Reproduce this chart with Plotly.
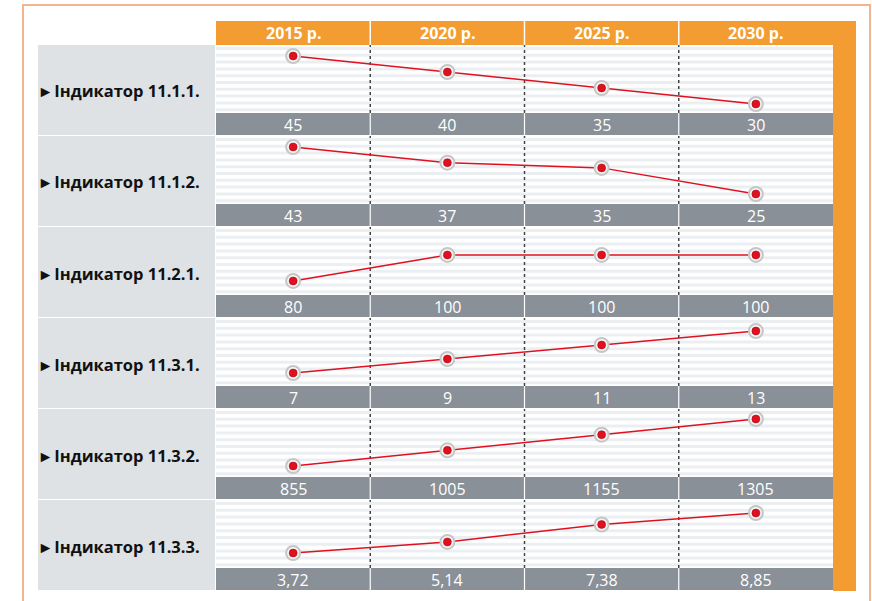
import plotly.graph_objects as go

# ---- data ----
years = ["2015 р.", "2020 р.", "2025 р.", "2030 р."]
indicators = ["Індикатор 11.1.1.", "Індикатор 11.1.2.", "Індикатор 11.2.1.",
              "Індикатор 11.3.1.", "Індикатор 11.3.2.", "Індикатор 11.3.3."]
ind_11_1_1 = [45, 40, 35, 30]
ind_11_1_2 = [43, 37, 35, 25]
ind_11_2_1 = [80, 100, 100, 100]
ind_11_3_1 = [7, 9, 11, 13]
ind_11_3_2 = [855, 1005, 1155, 1305]
ind_11_3_3 = [3.72, 5.14, 7.38, 8.85]
series = [ind_11_1_1, ind_11_1_2, ind_11_2_1, ind_11_3_1, ind_11_3_2, ind_11_3_3]
decimals = [0, 0, 0, 0, 0, 2]

# ---- styling / layout (pixels of the final page) ----
W, H = 872, 601
OFF = 0
y_ranges = [[27.19, 48.44], [21.17, 47.21], [69.2, 121.5],
            [5.14, 14.86], [749.7, 1400.7], [1.80, 10.52]]
X0, X1 = 216, 833          # plot columns
LBL0 = 38
ROW0, ROWSTEP, PLOTH, BARH = 45, 91, 68, 22
ORANGE = "#F39C31"
GREYBAR = "#8A9098"
LBLBG = "#DFE2E5"
STRIPE = "#ECEFF1"
RED = "#E0101E"
FONT = "Open Sans"

def px(x):
    return (x - OFF) / W

def py(y):
    return 1 - (y - OFF) / H

col_w = (X1 - X0) / 4
bounds = [X0 + col_w * i for i in range(5)]

shapes = []
annotations = []

# outer frame
shapes.append(dict(type="rect", xref="paper", yref="paper", x0=px(23), x1=px(870),
                   y0=py(640), y1=py(5), line=dict(color="#F5B48E", width=2),
                   fillcolor="rgba(0,0,0,0)", layer="below"))
# header + right strip
shapes.append(dict(type="rect", xref="paper", yref="paper", x0=px(X0), x1=px(856),
                   y0=py(45), y1=py(21), fillcolor=ORANGE, line_width=0, layer="below"))
shapes.append(dict(type="rect", xref="paper", yref="paper", x0=px(X1), x1=px(856),
                   y0=py(591), y1=py(21), fillcolor=ORANGE, line_width=0, layer="below"))
for b in bounds[1:4]:
    shapes.append(dict(type="line", xref="paper", yref="paper", x0=px(b), x1=px(b),
                       y0=py(45), y1=py(21), line=dict(color="white", width=1.5)))
for i, yl in enumerate(years):
    annotations.append(dict(xref="paper", yref="paper", x=px((bounds[i] + bounds[i + 1]) / 2),
                            y=py(33), text="<b>" + yl + "</b>", showarrow=False,
                            font=dict(family=FONT, size=16, color="white"),
                            xanchor="center", yanchor="middle"))

fig = go.Figure()
layout_axes = {}
for r, vals in enumerate(series):
    t = ROW0 + ROWSTEP * r
    # label box
    shapes.append(dict(type="rect", xref="paper", yref="paper", x0=px(LBL0), x1=px(X0 - 1),
                       y0=py(t + PLOTH + BARH), y1=py(t), fillcolor=LBLBG, line_width=0,
                       layer="below"))
    annotations.append(dict(xref="paper", yref="paper", x=px(38), y=py(t + 46),
                            text="<b>▸ " + indicators[r] + "</b>", showarrow=False,
                            font=dict(family=FONT, size=16.5, color="#111"),
                            xanchor="left", yanchor="middle"))
    # stripes
    for k in range(10):
        ys = t + 2 + k * 6.8
        shapes.append(dict(type="rect", xref="paper", yref="paper", x0=px(X0), x1=px(X1),
                           y0=py(ys + 3), y1=py(ys), fillcolor=STRIPE, line_width=0,
                           layer="below"))
    # dotted column separators
    for b in bounds[1:4]:
        shapes.append(dict(type="line", xref="paper", yref="paper", x0=px(b), x1=px(b),
                           y0=py(t + PLOTH), y1=py(t), layer="below",
                           line=dict(color="#444", width=1.5, dash="dot")))
    # value bar
    shapes.append(dict(type="rect", xref="paper", yref="paper", x0=px(X0), x1=px(X1),
                       y0=py(t + PLOTH + BARH), y1=py(t + PLOTH), fillcolor=GREYBAR,
                       line_width=0, layer="below"))
    for b in bounds[1:4]:
        shapes.append(dict(type="line", xref="paper", yref="paper", x0=px(b), x1=px(b),
                           y0=py(t + PLOTH + BARH), y1=py(t + PLOTH),
                           line=dict(color="white", width=1.2)))
    for i, v in enumerate(vals):
        txt = f"{v:.{decimals[r]}f}".replace(".", ",")
        annotations.append(dict(xref="paper", yref="paper",
                                x=px((bounds[i] + bounds[i + 1]) / 2),
                                y=py(t + PLOTH + BARH / 2 + 1), text=txt, showarrow=False,
                                font=dict(family=FONT, size=16, color="white"),
                                xanchor="center", yanchor="middle"))

    n = "" if r == 0 else str(r + 1)
    xa, ya = "x" + n, "y" + n
    fig.add_trace(go.Scatter(x=years, y=vals, xaxis=xa, yaxis=ya, mode="lines",
                             line=dict(color=RED, width=1.5), hoverinfo="skip",
                             showlegend=False))
    fig.add_trace(go.Scatter(x=years, y=vals, xaxis=xa, yaxis=ya, mode="markers",
                             marker=dict(size=14, color="rgba(245,245,245,0.95)",
                                         line=dict(color="#C6C6C6", width=2)),
                             hoverinfo="skip", showlegend=False))
    fig.add_trace(go.Scatter(x=years, y=vals, xaxis=xa, yaxis=ya, mode="markers",
                             marker=dict(size=8, color=RED,
                                         line=dict(color="#A00010", width=0.5)),
                             showlegend=False))
    layout_axes["xaxis" + n] = dict(domain=[px(X0), px(X1)], range=[-0.5, 3.5],
                                    visible=False, fixedrange=True,
                                    anchor=ya, type="category")
    layout_axes["yaxis" + n] = dict(domain=[py(t + PLOTH), py(t)], range=y_ranges[r],
                                    visible=False, fixedrange=True, anchor=xa)

fig.update_layout(width=W, height=H, margin=dict(l=0, r=0, t=0, b=0),
                  paper_bgcolor="white", plot_bgcolor="rgba(0,0,0,0)",
                  shapes=shapes, annotations=annotations, **layout_axes)
fig.write_html("out.html", config={"displayModeBar": False},
               post_script="document.body.style.margin='0';"
                           "document.body.style.overflow='hidden';")
